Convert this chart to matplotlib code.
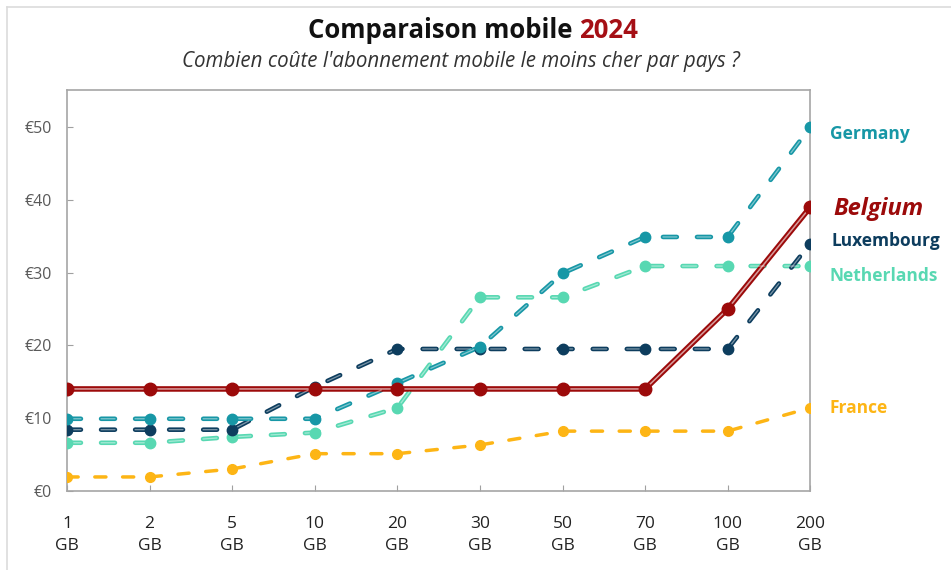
import matplotlib.pyplot as plt
from matplotlib.lines import Line2D

plt.rcParams['font.family'] = ['Open Sans', 'DejaVu Sans']
plt.rcParams['lines.scale_dashes'] = False

volumes = ['1', '2', '5', '10', '20', '30', '50', '70', '100', '200']
tick_labels = [v + '\nGB' for v in volumes]

belgium = [14, 14, 14, 14, 14, 14, 14, 14, 25, 39]
germany = [9.9, 9.9, 9.9, 9.9, 14.8, 19.8, 29.9, 34.9, 34.9, 50]
luxembourg = [8.4, 8.4, 8.4, 14.3, 19.5, 19.5, 19.5, 19.5, 19.5, 34]
netherlands = [6.6, 6.6, 7.4, 8.0, 11.4, 26.6, 26.6, 30.9, 30.9, 30.9]
france = [1.9, 1.9, 3.0, 5.1, 5.1, 6.3, 8.2, 8.2, 8.2, 11.4]

c_bel = '#9c0a0a'
c_ger = '#1797a6'
c_lux = '#0d3d5e'
c_ned = '#58d8b2'
c_fra = '#fdb515'

fig = plt.figure(figsize=(9.51, 5.70), dpi=100)
ax = fig.add_axes([0.0705, 0.139, 0.7815, 0.703])
x = list(range(len(volumes)))


def draw(vals, color, lw, ms, dashes=None, inner='#ffffff', inner_alpha=0.45):
    kw = {}
    if dashes:
        kw['dashes'] = dashes
    ax.plot(x, vals, color=color, lw=lw, solid_capstyle='round',
            dash_capstyle='round', zorder=2, **kw)
    ax.plot(x, vals, color=inner, lw=lw * 0.28, alpha=inner_alpha,
            dash_capstyle='round', zorder=3, **kw)
    ax.plot(x, vals, 'o', color=color, ms=ms, zorder=4)


draw(france, c_fra, 2.5, 7, dashes=(8, 12), inner_alpha=0.0)
draw(netherlands, c_ned, 3.3, 7.5, dashes=(10, 14.5))
draw(luxembourg, c_lux, 3.3, 7.5, dashes=(10, 14.5))
draw(germany, c_ger, 3.3, 7.5, dashes=(10, 14.5))
draw(belgium, c_bel, 4.0, 9, inner_alpha=0.6)

ax.set_xlim(0, 9)
ax.set_ylim(0, 55.1)
ax.set_yticks([0, 10, 20, 30, 40, 50])
ax.set_yticklabels(['€0', '€10', '€20', '€30', '€40', '€50'])
ax.set_xticks(x)
ax.set_xticklabels(tick_labels, fontsize=12.5, color='#222222', linespacing=1.55)
ax.tick_params(axis='y', direction='in', length=4, color='#a0a0a0',
               labelsize=11.5, labelcolor='#595959', pad=11)
ax.tick_params(axis='x', direction='in', length=4, color='#a0a0a0', pad=18)
for s in ax.spines.values():
    s.set_color('#a6a6a6')
    s.set_linewidth(1.2)

# labels on the right
lab = dict(fontsize=12.5, fontweight='bold', va='center', textcoords='offset points')
ax.annotate('Germany', (9, germany[-1]), xytext=(14, -5), color=c_ger, **lab)
ax.annotate('Luxembourg', (9, luxembourg[-1]), xytext=(15, 2), color=c_lux, **lab)
ax.annotate('Netherlands', (9, netherlands[-1]), xytext=(14, -7), color=c_ned, **lab)
ax.annotate('France', (9, france[-1]), xytext=(14, 0), color=c_fra, **lab)
ax.annotate('Belgium', (9, belgium[-1]), xytext=(17, -1), textcoords='offset points',
            color=c_bel, fontsize=17, fontweight='bold', style='italic', va='center')

# title in two colours
ty = 1 - 31 / 570
t1 = fig.text(0, ty, 'Comparaison mobile ', fontsize=18.5, fontweight='bold',
              color='#111111', va='center', ha='left')
t2 = fig.text(0, ty, '2024', fontsize=18.5, fontweight='bold',
              color='#a50f15', va='center', ha='left')
fig.canvas.draw()
r = fig.canvas.get_renderer()
w1 = t1.get_window_extent(r).width / fig.bbox.width
w2 = t2.get_window_extent(r).width / fig.bbox.width
start = 0.4975 - (w1 + w2) / 2
t1.set_x(start)
t2.set_x(start + w1)
fig.text(0.4845, 1 - 62 / 570, "Combien coûte l'abonnement mobile le moins cher par pays ?",
         fontsize=14.8, style='italic', color='#333333', ha='center', va='center')

# light frame at top and left
fig.add_artist(Line2D([7 / 951, 1], [1 - 7 / 570, 1 - 7 / 570], color='#dcdcdc', lw=1.2))
fig.add_artist(Line2D([7 / 951, 7 / 951], [0, 1 - 7 / 570], color='#dcdcdc', lw=1.2))

fig.savefig('out.png', dpi=100)
